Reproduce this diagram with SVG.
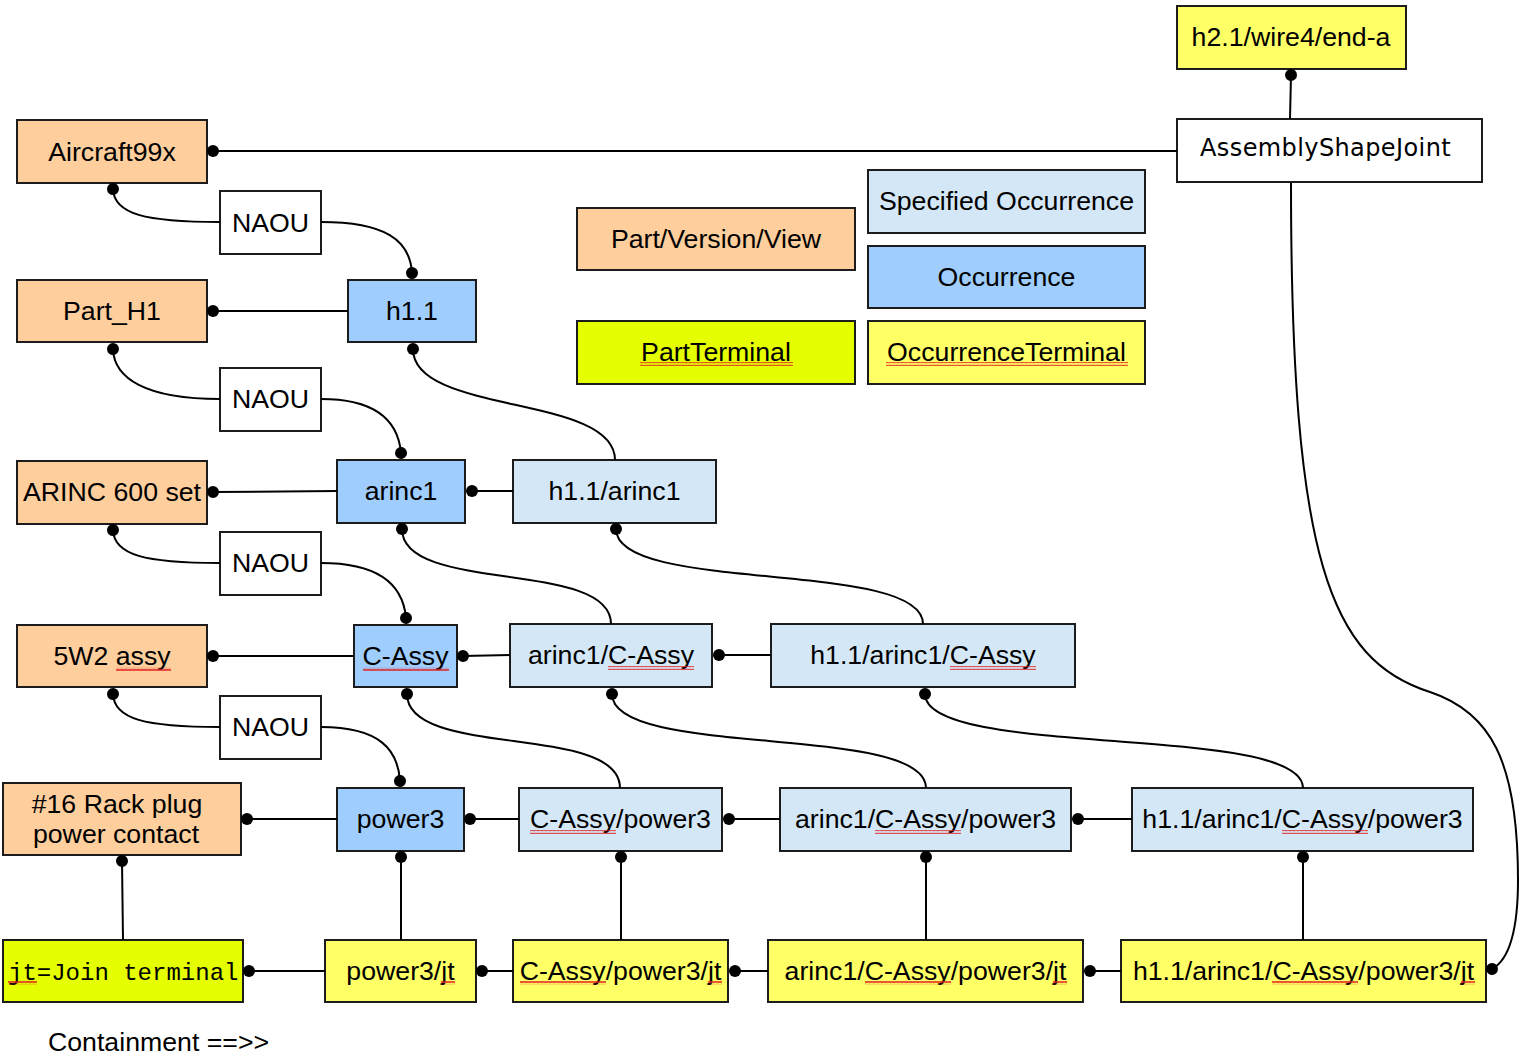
<svg xmlns="http://www.w3.org/2000/svg" width="1540" height="1064" viewBox="0 0 1540 1064">
<defs>
<style>
.box{stroke:#1c1c1c;stroke-width:2}
.pvv{fill:#FECE9C}
.occ{fill:#9FCDFD}
.spec{fill:#D4E7F6}
.ot{fill:#FFFF66}
.pt{fill:#E6FF00}
.plain{fill:#FFFFFF}
.t{font-family:"Liberation Sans",Arial,sans-serif;font-size:26.7px;fill:#000;text-anchor:middle}
.mono{font-family:"Liberation Mono","Courier New",monospace;font-size:24px;fill:#000}
.asj{font-family:"DejaVu Sans",sans-serif;font-size:24px;fill:#000;letter-spacing:0.4px}
.c{fill:none;stroke:#000;stroke-width:2;marker-start:url(#dot)}
.wv{fill:url(#wave)}
</style>
<marker id="dot" markerWidth="14" markerHeight="14" refX="7" refY="7" markerUnits="userSpaceOnUse" orient="auto">
<circle cx="7" cy="7" r="6" fill="#000"/>
</marker>
<pattern id="wave" width="4" height="4" patternUnits="userSpaceOnUse">
<path d="M0,3.2 L1,0.8 L2,3.2 L3,0.8 L4,3.2" fill="none" stroke="#E02020" stroke-width="0.9"/>
</pattern>
</defs>
<rect width="1540" height="1064" fill="#FFFFFF"/>

<g id="nodes">
<g id="n-end-a"><rect class="box ot" x="1177" y="6" width="229" height="63"/><text class="t" x="1291" y="46">h2.1/wire4/end-a</text></g>
<g id="n-asj"><rect class="box plain" x="1177" y="119" width="305" height="63"/><text class="asj" x="1200" y="156">AssemblyShapeJoint</text></g>
<g id="n-aircraft"><rect class="box pvv" x="17" y="120" width="190" height="63"/><text class="t" x="112" y="161">Aircraft99x</text></g>
<g id="n-naou1"><rect class="box plain" x="220" y="191" width="101" height="63"/><text class="t" x="270.5" y="232">NAOU</text></g>
<g id="n-h11"><rect class="box occ" x="348" y="280" width="128" height="62"/><text class="t" x="412" y="320">h1.1</text></g>
<g id="n-parth1"><rect class="box pvv" x="17" y="280" width="190" height="62"/><text class="t" x="112" y="320">Part_H1</text></g>
<g id="n-naou2"><rect class="box plain" x="220" y="368" width="101" height="63"/><text class="t" x="270.5" y="408">NAOU</text></g>
<g id="n-arincset"><rect class="box pvv" x="17" y="461" width="190" height="63"/><text class="t" x="112" y="501">ARINC 600 set</text></g>
<g id="n-arinc1"><rect class="box occ" x="337" y="460" width="128" height="63"/><text class="t" x="401" y="500">arinc1</text></g>
<g id="n-h11-arinc1"><rect class="box spec" x="513" y="460" width="203" height="63"/><text class="t" x="614.5" y="500">h1.1/arinc1</text></g>
<g id="n-naou3"><rect class="box plain" x="220" y="532" width="101" height="63"/><text class="t" x="270.5" y="572">NAOU</text></g>
<g id="n-5w2"><rect class="box pvv" x="17" y="625" width="190" height="62"/><text class="t" x="112" y="665">5W2 assy</text><rect class="wv" x="116" y="667" width="55" height="4"/></g>
<g id="n-cassy"><rect class="box occ" x="354" y="625" width="103" height="62"/><text class="t" x="405.5" y="665">C-Assy</text><rect class="wv" x="363" y="667" width="86" height="4"/></g>
<g id="n-arinc1-cassy"><rect class="box spec" x="510" y="624" width="202" height="63"/><text class="t" x="611" y="664">arinc1/C-Assy</text><rect class="wv" x="608" y="666" width="86" height="4"/></g>
<g id="n-h11-arinc1-cassy"><rect class="box spec" x="771" y="624" width="304" height="63"/><text class="t" x="923" y="664">h1.1/arinc1/C-Assy</text><rect class="wv" x="950" y="666" width="86" height="4"/></g>
<g id="n-naou4"><rect class="box plain" x="220" y="696" width="101" height="63"/><text class="t" x="270.5" y="736">NAOU</text></g>
<g id="n-rackplug"><rect class="box pvv" x="3" y="783" width="238" height="72"/><text class="t" x="117" y="813">#16 Rack plug</text><text class="t" x="116" y="843">power contact</text></g>
<g id="n-power3"><rect class="box occ" x="337" y="788" width="127" height="63"/><text class="t" x="400.5" y="828">power3</text></g>
<g id="n-cassy-power3"><rect class="box spec" x="519" y="788" width="203" height="63"/><text class="t" x="620.5" y="828">C-Assy/power3</text><rect class="wv" x="530" y="830" width="86" height="4"/></g>
<g id="n-arinc1-cassy-power3"><rect class="box spec" x="780" y="788" width="291" height="63"/><text class="t" x="925.5" y="828">arinc1/C-Assy/power3</text><rect class="wv" x="875" y="830" width="86" height="4"/></g>
<g id="n-h11-arinc1-cassy-power3"><rect class="box spec" x="1132" y="788" width="341" height="63"/><text class="t" x="1302.5" y="828">h1.1/arinc1/C-Assy/power3</text><rect class="wv" x="1282" y="830" width="86" height="4"/></g>
<g id="n-jt"><rect class="box pt" x="3" y="940" width="240" height="62"/><text class="mono" x="8" y="980">jt=Join terminal</text><rect class="wv" x="8" y="981" width="29" height="4"/></g>
<g id="n-power3-jt"><rect class="box ot" x="325" y="940" width="151" height="62"/><text class="t" x="400.5" y="980">power3/jt</text><rect class="wv" x="441" y="981" width="14" height="4"/></g>
<g id="n-cassy-power3-jt"><rect class="box ot" x="513" y="940" width="215" height="62"/><text class="t" x="620.5" y="980">C-Assy/power3/jt</text><rect class="wv" x="520" y="981" width="86" height="4"/><rect class="wv" x="708" y="981" width="14" height="4"/></g>
<g id="n-arinc1-cassy-power3-jt"><rect class="box ot" x="768" y="940" width="315" height="62"/><text class="t" x="925.5" y="980">arinc1/C-Assy/power3/jt</text><rect class="wv" x="865" y="981" width="86" height="4"/><rect class="wv" x="1053" y="981" width="14" height="4"/></g>
<g id="n-h11-arinc1-cassy-power3-jt"><rect class="box ot" x="1121" y="940" width="365" height="62"/><text class="t" x="1303.5" y="980">h1.1/arinc1/C-Assy/power3/jt</text><rect class="wv" x="1272" y="981" width="86" height="4"/><rect class="wv" x="1461" y="981" width="14" height="4"/></g>
</g>

<g id="legend">
<g id="l-pvv"><rect class="box pvv" x="577" y="208" width="278" height="62"/><text class="t" x="716" y="248">Part/Version/View</text></g>
<g id="l-spec"><rect class="box spec" x="868" y="170" width="277" height="63"/><text class="t" x="1006.5" y="210">Specified Occurrence</text></g>
<g id="l-occ"><rect class="box occ" x="868" y="246" width="277" height="62"/><text class="t" x="1006.5" y="286">Occurrence</text></g>
<g id="l-pt"><rect class="box pt" x="577" y="321" width="278" height="63"/><text class="t" x="716" y="361">PartTerminal</text><rect class="wv" x="640" y="362" width="153" height="4"/></g>
<g id="l-ot"><rect class="box ot" x="868" y="321" width="277" height="63"/><text class="t" x="1006.5" y="361">OccurrenceTerminal</text><rect class="wv" x="886" y="362" width="242" height="4"/></g>
</g>

<g id="connectors">
<path class="c" d="M213,151 L1177,151"/>
<path class="c" d="M1291,75 L1290,119"/>
<path class="c" d="M1492,969 C1505,962 1518,940 1518,880 C1518,760 1490,712 1430,692 C1330,660 1291,560 1291,183"/>
<path class="c" d="M113,189 C114,214 145,222 220,222"/>
<path class="c" d="M412,273 C410,240 385,222 321,222"/>
<path class="c" d="M213,311 L348,311"/>
<path class="c" d="M113,349 C114,378 145,399 220,399"/>
<path class="c" d="M401,453 C398,420 375,399 321,399"/>
<path class="c" d="M413,349 C413,415 615,394 615,460"/>
<path class="c" d="M213,492 L337,491"/>
<path class="c" d="M472,491 L513,491"/>
<path class="c" d="M113,530 C114,555 145,563 220,563"/>
<path class="c" d="M406,618 C403,585 380,563 321,563"/>
<path class="c" d="M402,529 C402,594 611,559 611,624"/>
<path class="c" d="M616,529 C616,594 923,559 923,624"/>
<path class="c" d="M213,656 L354,656"/>
<path class="c" d="M463,656 L510,655"/>
<path class="c" d="M719,655 L771,655"/>
<path class="c" d="M113,694 C114,719 145,727 220,727"/>
<path class="c" d="M400,781 C398,750 380,727 321,727"/>
<path class="c" d="M407,694 C407,759 620,723 620,788"/>
<path class="c" d="M612,694 C612,759 926,723 926,788"/>
<path class="c" d="M925,694 C925,759 1303,723 1303,788"/>
<path class="c" d="M247,819 L337,819"/>
<path class="c" d="M470,819 L519,819"/>
<path class="c" d="M729,819 L780,819"/>
<path class="c" d="M1078,819 L1132,819"/>
<path class="c" d="M122,861 L123,940"/>
<path class="c" d="M401,857 L401,940"/>
<path class="c" d="M621,857 L621,940"/>
<path class="c" d="M926,857 L926,940"/>
<path class="c" d="M1303,857 L1303,940"/>
<path class="c" d="M249,971 L325,971"/>
<path class="c" d="M482,971 L513,971"/>
<path class="c" d="M735,971 L768,971"/>
<path class="c" d="M1090,971 L1121,971"/>
</g>

<text class="t" x="48" y="1051" style="text-anchor:start">Containment ==&gt;&gt;</text>
</svg>
